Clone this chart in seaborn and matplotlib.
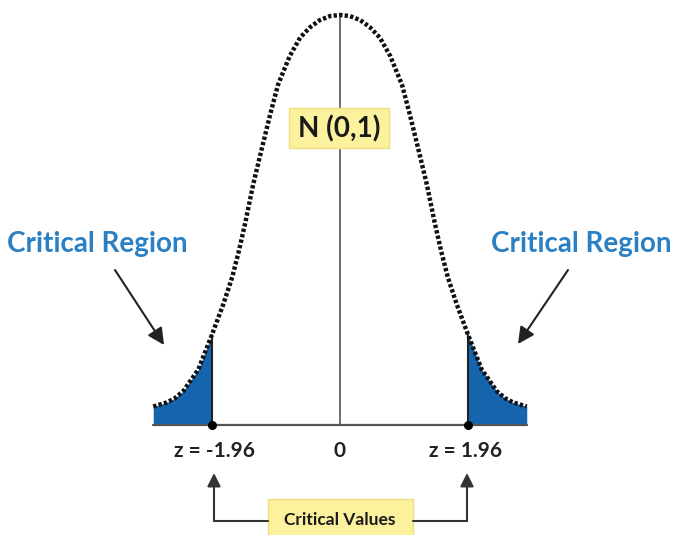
import numpy as np
import pandas as pd
import matplotlib
matplotlib.use("Agg")
import matplotlib.pyplot as plt
import seaborn as sns
from matplotlib.patches import Rectangle
from matplotlib.lines import Line2D

# bell curve (z, density)
z_vals = [-2.86, -2.65, -2.53, -2.40, -2.17, -1.96, -1.79, -1.65, -1.55, -1.45,
          -1.33, -1.19, -1.07, -0.95, -0.77, -0.61, -0.46, -0.31, -0.15, 0.0,
          0.15, 0.31, 0.46, 0.61, 0.77, 0.95, 1.07, 1.19, 1.33, 1.45,
          1.55, 1.65, 1.79, 1.96, 2.17, 2.40, 2.53, 2.65, 2.86]
dens_vals = [0.018, 0.022, 0.026, 0.033, 0.054, 0.088, 0.117, 0.144, 0.169, 0.197,
             0.234, 0.271, 0.302, 0.331, 0.359, 0.377, 0.387, 0.394, 0.398, 0.399,
             0.398, 0.394, 0.387, 0.377, 0.359, 0.331, 0.302, 0.271, 0.234, 0.197,
             0.169, 0.144, 0.117, 0.088, 0.054, 0.033, 0.026, 0.022, 0.018]
z_crit = 1.96
crit_labels = ["z = -1.96", "0", "z = 1.96"]
dist_label = "N (0,1)"
region_label = "Critical Region"
values_label = "Critical Values"

df = pd.DataFrame({"z": z_vals, "density": dens_vals})

sns.set_theme(style="white")
plt.rcParams["font.family"] = ["Lato", "DejaVu Sans"]

W, H = 673, 535
fig = plt.figure(figsize=(W / 100, H / 100), dpi=100)
ax = fig.add_axes([0, 0, 1, 1])
ax.set_xlim(-340 / 65.3, 333 / 65.3)
ax.set_ylim(-110 * 0.000973, 0.399 + 15 * 0.000973)
ax.axis("off")

def fp(x, y):
    # pixel (from top-left) -> figure fraction
    return x / W, 1 - y / H

blue_fill = "#1565ae"
blue_text = "#2a80c3"
dark = "#222222"

# shaded tails
z = df["z"].to_numpy()
d = df["density"].to_numpy()
ax.fill_between(z, 0, d, where=z <= -z_crit, color=blue_fill, lw=0, zorder=2)
ax.fill_between(z, 0, d, where=z >= z_crit, color=blue_fill, lw=0, zorder=2)

# baseline, centre line and critical lines
ax.plot([z[0], z[-1]], [0, 0], color="#555555", lw=1.6, zorder=3)
ax.plot([0, 0], [0, df["density"].max()], color="#555555", lw=1.2, zorder=1)
for zc in (-z_crit, z_crit):
    top = df.loc[np.isclose(df["z"], zc), "density"].iloc[0]
    ax.plot([zc, zc], [0, top], color=dark, lw=1.5, zorder=3)
ax.plot([-z_crit, z_crit], [0, 0], "o", color="black", ms=5.5, zorder=4)

# dotted bell curve
sns.lineplot(data=df, x="z", y="density", sort=False, color="#111111",
             lw=3.2, linestyle=(0, (0.75, 0.5)), ax=ax, zorder=5)
ax.set_xlabel("")
ax.set_ylabel("")

# N(0,1) label box
ax.add_patch(Rectangle(fp(289, 148), 100 / W, 40 / H, transform=fig.transFigure,
                       facecolor="#fcf19d", edgecolor="#efdf85", lw=1, zorder=6))
fig.text(*fp(339, 129), dist_label, ha="center", va="center", fontsize=20,
         fontweight="bold", color="#1a1a1a", zorder=7)

# Critical Region labels and arrows
fig.text(*fp(97, 244), region_label, ha="center", va="center", fontsize=20,
         fontweight="bold", color=blue_text)
fig.text(*fp(581, 244), region_label, ha="center", va="center", fontsize=20,
         fontweight="bold", color=blue_text)
arrow_kw = dict(arrowstyle="-|>", color=dark, lw=1.5, mutation_scale=25,
                shrinkA=0, shrinkB=0)
ax.annotate("", xy=fp(164, 345), xytext=fp(115, 270), xycoords="figure fraction",
            textcoords="figure fraction", arrowprops=arrow_kw)
ax.annotate("", xy=fp(518, 344), xytext=fp(568, 270), xycoords="figure fraction",
            textcoords="figure fraction", arrowprops=arrow_kw)

# tick labels
for xpx, lab in zip([214, 339, 466], crit_labels):
    fig.text(*fp(xpx, 451), lab, ha="center", va="center", fontsize=15,
             fontweight="bold", color=dark)

# Critical Values bracket
bracket_kw = dict(arrowstyle="-|>", color="#333333", lw=1.5, mutation_scale=20,
                  shrinkA=0, shrinkB=0)
for xpx in (214, 467):
    ax.annotate("", xy=fp(xpx, 473), xytext=fp(xpx, 521), xycoords="figure fraction",
                textcoords="figure fraction", arrowprops=bracket_kw)
for x0, x1 in ((214, 268), (413, 467)):
    (a, b), (c, e) = fp(x0, 521), fp(x1, 521)
    fig.add_artist(Line2D([a, c], [b, e], color="#333333", lw=1.5,
                          transform=fig.transFigure))
ax.add_patch(Rectangle(fp(268, 540), 145 / W, 41 / H, transform=fig.transFigure,
                       facecolor="#fcf19d", edgecolor="#efdf85", lw=1, zorder=6))
fig.text(*fp(340, 520), values_label, ha="center", va="center", fontsize=12.5,
         fontweight="bold", color="#1a1a1a", zorder=7)

fig.savefig("out.png", dpi=100)
